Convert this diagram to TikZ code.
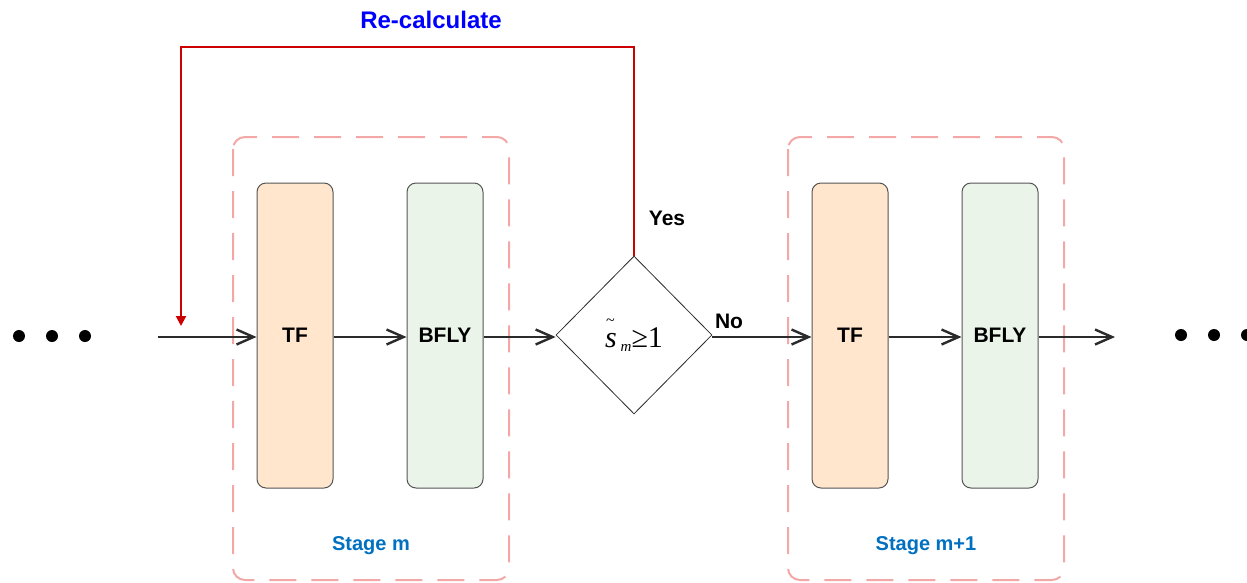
\documentclass[tikz,border=0pt]{standalone}
\usepackage{fontspec}
\setmainfont{Liberation Sans}
\newfontfamily\formulafont{Liberation Serif}
\usetikzlibrary{arrows.meta,shapes.geometric}
\definecolor{flow}{HTML}{2B2B2B}
\definecolor{tffill}{HTML}{FFE6CC}
\definecolor{bflyfill}{HTML}{EAF4E8}
\definecolor{stageline}{HTML}{F4A7A7}
\definecolor{stagetext}{HTML}{0070C0}
\definecolor{loopred}{HTML}{CC0000}
\newcommand{\tildesym}{\rlap{\raisebox{22pt}{\hspace{1pt}\fontsize{16}{16}\selectfont\textasciitilde}}}
\begin{document}
\begin{tikzpicture}[x=1pt,y=-1pt,
  every node/.style={font=\fontsize{21}{25}\selectfont\bfseries},
  stagebox/.style={draw=stageline,line width=2pt,rounded corners=12pt,dash pattern=on 27pt off 15pt},
  unit/.style={draw=flow!80,line width=1pt,rounded corners=9pt,minimum width=76pt,minimum height=305pt,inner sep=0pt},
  tfunit/.style={unit,fill=tffill},
  bflyunit/.style={unit,fill=bflyfill},
  decision/.style={diamond,draw=flow,line width=0.8pt,minimum width=156pt,minimum height=158pt,inner sep=0pt,aspect=1},
  flowarrow/.style={draw=flow,line width=2.2pt,-{Straight Barb[length=17pt,width=15pt,line width=2.4pt]}},
  looparrow/.style={draw=loopred,line width=2pt,-{Triangle[length=10pt,width=10pt]}},
  dot/.style={circle,fill=black,minimum size=12pt,inner sep=0pt},
  stagelabel/.style={text=stagetext,font=\fontsize{20}{24}\selectfont\bfseries}
]
\useasboundingbox (0,0) rectangle (1247,582);

% stage frames
\draw[stagebox] (233,137) rectangle (509,580);
\draw[stagebox] (788,137) rectangle (1064,580);

% processing units
\node[tfunit]   (tf1)   at (295,335.5) {TF};
\node[bflyunit] (bfly1) at (445,335.5) {BFLY};
\node[tfunit]   (tf2)   at (850,335.5) {TF};
\node[bflyunit] (bfly2) at (1000,335.5) {BFLY};

% overflow test: diamond with the condition inside
\node[decision] (test) at (634,335)
  {\raisebox{-8pt}{\fontsize{30}{34}\selectfont\formulafont\mdseries
   \tildesym{\itshape s}\hspace{4pt}\raisebox{-4pt}{\fontsize{15}{15}\selectfont\itshape m}≥1}};

% continuation dots
\node[dot] (l1) at (19,336) {};
\node[dot] (l2) at (52,336) {};
\node[dot] (l3) at (85,336) {};
\node[dot] (r1) at (1181,335) {};
\node[dot] (r2) at (1214,335) {};
\node[dot] (r3) at (1247,335) {};

% data path
\coordinate (in)  at (158,337);
\coordinate (out) at (1115,337);
\draw[flowarrow] (in) -- (tf1.west|-in);
\draw[flowarrow] (tf1.east|-in) -- (bfly1.west|-in);
\draw[flowarrow] (bfly1.east|-in) -- (test.west|-in);
\draw[flowarrow] (test.east|-in) -- (tf2.west|-in);
\draw[flowarrow] (tf2.east|-in) -- (bfly2.west|-in);
\draw[flowarrow] (bfly2.east|-in) -- (out);

% feedback loop
\coordinate (back) at (181,326);
\draw[looparrow] (test.north) -- (634,47) -- (181,47) -- (back);

% labels
\node[text=blue,font=\fontsize{24}{28}\selectfont\bfseries] (recalc) at (431,20) {Re-calculate};
\node (yes) at (667,218) {Yes};
\node (no)  at (729,321) {No};
\node[stagelabel] (sm)  at (371,546) {Stage m};
\node[stagelabel] (sm1) at (926,546) {Stage m+1};
\end{tikzpicture}
\end{document}
